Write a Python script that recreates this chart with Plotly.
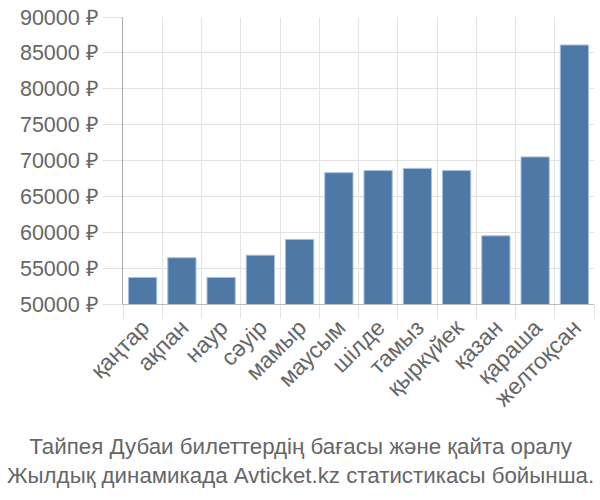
import plotly.graph_objects as go

months = ["қаңтар", "ақпан", "наур", "сәуір", "мамыр", "маусым", "шілде",
          "тамыз", "қыркүйек", "қазан", "қараша", "желтоқсан"]
prices = [53700, 56450, 53700, 56800, 59000, 68300, 68600, 68900, 68600, 59500, 70500, 86100]
y_ticks = [50000, 55000, 60000, 65000, 70000, 75000, 80000, 85000, 90000]
y_tick_text = [f"{v} ₽" for v in y_ticks]
title_lines = ["Тайпея Дубаи билеттердің бағасы және қайта оралу",
               "Жылдық динамикада Avticket.kz статистикасы бойынша."]

fig = go.Figure(go.Bar(
    x=months, y=prices,
    marker=dict(color="#4e79a7", line=dict(color="#a9c1dc", width=1)),
))

fig.update_layout(
    width=600, height=500,
    margin=dict(l=123, r=6, t=14, b=196),
    paper_bgcolor="white", plot_bgcolor="white",
    bargap=0.28,
    showlegend=False,
    font=dict(family="Liberation Sans, Arial, sans-serif", color="#666666"),
    annotations=[dict(
        text="<br>".join(title_lines), xref="paper", yref="paper",
        x=0.5, xanchor="center", y=-0.445, yanchor="top",
        xshift=-58, showarrow=False, font=dict(size=22.3, color="#666666"),
    )],
)
fig.update_xaxes(
    type="category", tickson="boundaries", tickangle=-45,
    showgrid=True, gridcolor="#e3e3e3", gridwidth=1,
    ticks="outside", ticklen=14, tickcolor="#e3e3e3",
    showline=True, linecolor="#bbbbbb", linewidth=1,
    tickfont=dict(size=23, color="#666666"),
)
fig.update_yaxes(
    range=[50000, 90000], tickvals=y_ticks, ticktext=y_tick_text,
    showgrid=True, gridcolor="#e3e3e3", gridwidth=1,
    ticks="outside", ticklen=19, tickcolor="#e3e3e3",
    showline=True, linecolor="#aaaaaa", linewidth=1,
    tickfont=dict(size=21.5, color="#666666"), zeroline=False,
)

fig.write_html("out.html")
